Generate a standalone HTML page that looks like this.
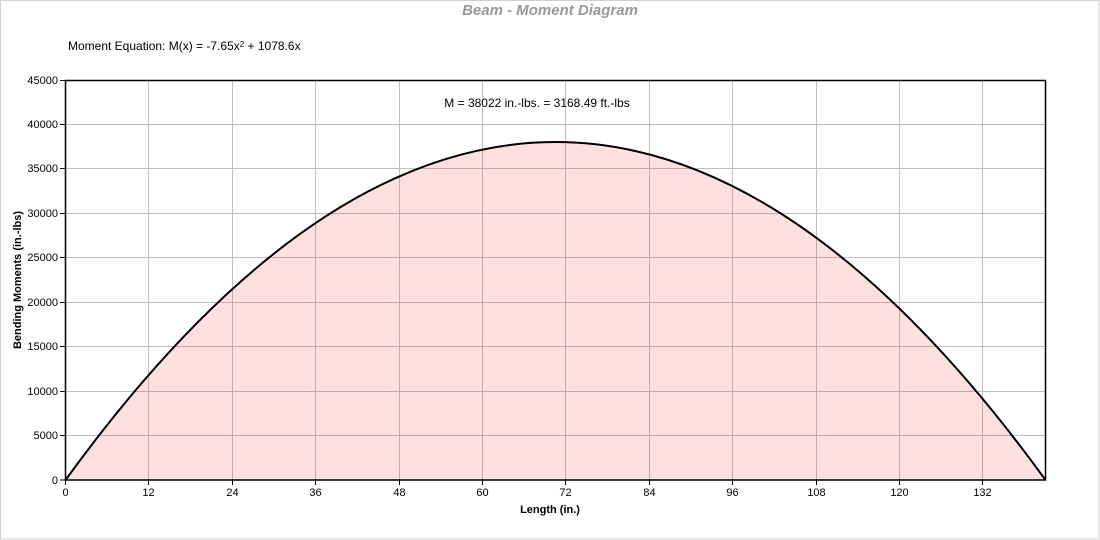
<!DOCTYPE html>
<html>
<head>
<meta charset="utf-8">
<style>
  html,body{margin:0;padding:0;background:#fff;}
  svg{display:block;}
  text{font-family:"Liberation Sans",Arial,sans-serif;}
</style>
</head>
<body>
<svg width="1100" height="540" viewBox="0 0 1100 540" xmlns="http://www.w3.org/2000/svg">
  <rect x="0.5" y="0.5" width="1098.5" height="538.5" fill="#fff" stroke="#d0d0d0" stroke-width="1"/>

  <!-- title -->
  <text x="550" y="15" text-anchor="middle" font-size="15" font-weight="bold" font-style="italic" fill="#999999">Beam - Moment Diagram</text>

  <!-- equation -->
  <text x="68" y="50" font-size="12" fill="#000">Moment Equation:  M(x) = -7.65x<tspan font-size="8" dy="-3">2</tspan><tspan dy="3"> + 1078.6x</tspan></text>

  <!-- grid -->
  <g stroke="#c0c0c0" stroke-width="1">
    <line x1="148.5" y1="80" x2="148.5" y2="480"/>
    <line x1="232.5" y1="80" x2="232.5" y2="480"/>
    <line x1="315.5" y1="80" x2="315.5" y2="480"/>
    <line x1="399.5" y1="80" x2="399.5" y2="480"/>
    <line x1="482.5" y1="80" x2="482.5" y2="480"/>
    <line x1="565.5" y1="80" x2="565.5" y2="480"/>
    <line x1="649.5" y1="80" x2="649.5" y2="480"/>
    <line x1="732.5" y1="80" x2="732.5" y2="480"/>
    <line x1="816.5" y1="80" x2="816.5" y2="480"/>
    <line x1="899.5" y1="80" x2="899.5" y2="480"/>
    <line x1="982.5" y1="80" x2="982.5" y2="480"/>

    <line x1="66" y1="124.5" x2="1046" y2="124.5"/>
    <line x1="66" y1="168.5" x2="1046" y2="168.5"/>
    <line x1="66" y1="213.5" x2="1046" y2="213.5"/>
    <line x1="66" y1="257.5" x2="1046" y2="257.5"/>
    <line x1="66" y1="302.5" x2="1046" y2="302.5"/>
    <line x1="66" y1="346.5" x2="1046" y2="346.5"/>
    <line x1="66" y1="391.5" x2="1046" y2="391.5"/>
    <line x1="66" y1="435.5" x2="1046" y2="435.5"/>
  </g>

  <!-- fill -->
  <path d="M65.5,480 Q555.5,-195.9 1045.5,480 Z" fill="rgba(255,0,0,0.12)" stroke="none"/>

  <!-- curve -->
  <path d="M65.5,480 Q555.5,-195.9 1045.5,480" fill="none" stroke="#000" stroke-width="2"/>

  <!-- plot frame -->
  <rect x="65.5" y="80.5" width="980" height="399.5" fill="none" stroke="#000" stroke-width="1.5"/>

  <!-- y ticks -->
  <g stroke="#000" stroke-width="1">
    <line x1="60" y1="80.5" x2="66" y2="80.5"/>
    <line x1="60" y1="124.5" x2="66" y2="124.5"/>
    <line x1="60" y1="168.5" x2="66" y2="168.5"/>
    <line x1="60" y1="213.5" x2="66" y2="213.5"/>
    <line x1="60" y1="257.5" x2="66" y2="257.5"/>
    <line x1="60" y1="302.5" x2="66" y2="302.5"/>
    <line x1="60" y1="346.5" x2="66" y2="346.5"/>
    <line x1="60" y1="391.5" x2="66" y2="391.5"/>
    <line x1="60" y1="435.5" x2="66" y2="435.5"/>
    <line x1="60" y1="480" x2="66" y2="480"/>
  </g>
  <g font-size="11" fill="#000" text-anchor="end">
    <text x="58" y="84">45000</text>
    <text x="58" y="128">40000</text>
    <text x="58" y="172">35000</text>
    <text x="58" y="217">30000</text>
    <text x="58" y="261">25000</text>
    <text x="58" y="306">20000</text>
    <text x="58" y="350">15000</text>
    <text x="58" y="395">10000</text>
    <text x="58" y="439">5000</text>
    <text x="58" y="484">0</text>
  </g>

  <!-- x ticks -->
  <g stroke="#000" stroke-width="1">
    <line x1="65.5" y1="480" x2="65.5" y2="485"/>
    <line x1="148.5" y1="480" x2="148.5" y2="485"/>
    <line x1="232.5" y1="480" x2="232.5" y2="485"/>
    <line x1="315.5" y1="480" x2="315.5" y2="485"/>
    <line x1="399.5" y1="480" x2="399.5" y2="485"/>
    <line x1="482.5" y1="480" x2="482.5" y2="485"/>
    <line x1="565.5" y1="480" x2="565.5" y2="485"/>
    <line x1="649.5" y1="480" x2="649.5" y2="485"/>
    <line x1="732.5" y1="480" x2="732.5" y2="485"/>
    <line x1="816.5" y1="480" x2="816.5" y2="485"/>
    <line x1="899.5" y1="480" x2="899.5" y2="485"/>
    <line x1="982.5" y1="480" x2="982.5" y2="485"/>
  </g>
  <g font-size="11" fill="#000" text-anchor="middle">
    <text x="65.5" y="496">0</text>
    <text x="148.5" y="496">12</text>
    <text x="232.5" y="496">24</text>
    <text x="315.5" y="496">36</text>
    <text x="399.5" y="496">48</text>
    <text x="482.5" y="496">60</text>
    <text x="565.5" y="496">72</text>
    <text x="649.5" y="496">84</text>
    <text x="732.5" y="496">96</text>
    <text x="816.5" y="496">108</text>
    <text x="899.5" y="496">120</text>
    <text x="982.5" y="496">132</text>
  </g>

  <!-- axis titles -->
  <text x="550" y="513" text-anchor="middle" font-size="11" font-weight="bold" fill="#000">Length (in.)</text>
  <text transform="translate(21,280) rotate(-90)" text-anchor="middle" font-size="11" font-weight="bold" fill="#000">Bending Moments (in.-lbs)</text>

  <!-- annotation -->
  <text x="537" y="107" text-anchor="middle" font-size="12" fill="#000">M = 38022 in.-lbs. = 3168.49 ft.-lbs</text>
</svg>
</body>
</html>
